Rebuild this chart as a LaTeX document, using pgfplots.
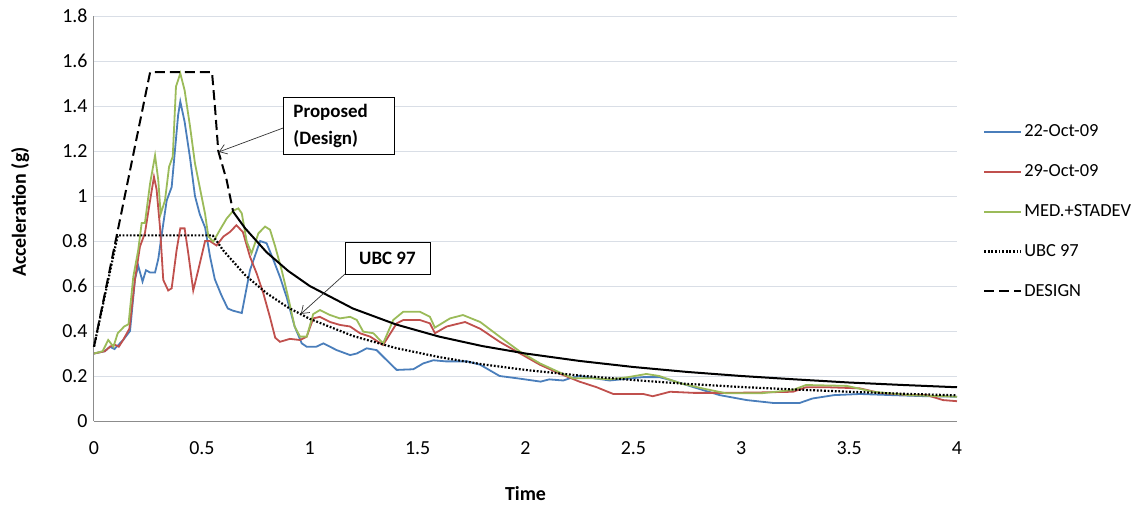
\documentclass[border=0pt]{standalone}
\usepackage{fontspec}
\setmainfont{Carlito}
\usepackage{pgfplots}
\usepackage{pgfplotstable}
\usetikzlibrary{arrows.meta}
\pgfplotsset{compat=1.18}
\definecolor{cblue}{RGB}{74,126,187}
\definecolor{cred}{RGB}{192,80,77}
\definecolor{cgreen}{RGB}{155,187,89}
\definecolor{gridc}{RGB}{217,222,230}
\definecolor{axc}{RGB}{140,140,140}

\pgfplotstableread{
t a
0 0.30
0.05 0.31
0.074 0.33
0.095 0.32
0.115 0.34
0.135 0.36
0.167 0.40
0.19 0.63
0.205 0.69
0.225 0.62
0.241 0.67
0.26 0.66
0.283 0.66
0.298 0.72
0.314 0.83
0.337 0.98
0.36 1.04
0.375 1.20
0.39 1.36
0.40 1.42
0.42 1.33
0.445 1.17
0.468 1.00
0.49 0.92
0.515 0.86
0.538 0.73
0.56 0.63
0.59 0.56
0.62 0.50
0.645 0.49
0.685 0.48
0.723 0.67
0.77 0.80
0.80 0.79
0.83 0.72
0.862 0.64
0.893 0.55
0.93 0.42
0.963 0.345
0.986 0.33
1.03 0.33
1.063 0.345
1.125 0.315
1.187 0.293
1.218 0.30
1.264 0.323
1.31 0.315
1.357 0.27
1.403 0.227
1.48 0.23
1.526 0.256
1.573 0.27
1.63 0.265
1.73 0.265
1.79 0.25
1.88 0.20
1.96 0.19
2.07 0.175
2.11 0.185
2.175 0.18
2.206 0.19
2.25 0.20
2.39 0.18
2.545 0.195
2.62 0.195
2.68 0.18
2.78 0.15
2.90 0.115
3.025 0.093
3.15 0.08
3.27 0.08
3.33 0.10
3.43 0.115
3.55 0.12
3.70 0.115
3.86 0.11
4.0 0.108
}\blue

\pgfplotstableread{
t a
0 0.30
0.05 0.31
0.074 0.33
0.095 0.34
0.115 0.33
0.135 0.36
0.164 0.41
0.19 0.63
0.213 0.775
0.236 0.835
0.26 0.98
0.278 1.085
0.29 1.03
0.306 0.86
0.321 0.627
0.344 0.58
0.36 0.59
0.383 0.76
0.40 0.856
0.42 0.856
0.437 0.745
0.46 0.58
0.483 0.67
0.515 0.80
0.537 0.80
0.568 0.78
0.60 0.82
0.63 0.84
0.66 0.87
0.69 0.84
0.723 0.73
0.754 0.656
0.785 0.567
0.816 0.46
0.84 0.37
0.862 0.352
0.908 0.365
0.955 0.36
0.986 0.375
1.016 0.456
1.047 0.463
1.094 0.44
1.14 0.427
1.187 0.42
1.233 0.39
1.28 0.375
1.34 0.338
1.403 0.434
1.434 0.449
1.51 0.449
1.557 0.434
1.58 0.39
1.635 0.42
1.72 0.44
1.79 0.41
1.88 0.352
1.975 0.30
2.067 0.25
2.16 0.21
2.25 0.175
2.33 0.15
2.407 0.12
2.546 0.12
2.59 0.11
2.67 0.13
2.78 0.125
2.93 0.125
3.09 0.127
3.24 0.13
3.30 0.15
3.40 0.15
3.55 0.145
3.64 0.125
3.78 0.115
3.86 0.115
3.935 0.093
4.0 0.088
}\red

\pgfplotstableread{
t a
0 0.30
0.04 0.31
0.066 0.36
0.09 0.33
0.11 0.39
0.14 0.42
0.16 0.43
0.182 0.64
0.205 0.76
0.221 0.88
0.236 0.88
0.26 1.056
0.283 1.18
0.298 1.07
0.309 0.92
0.329 0.98
0.348 1.13
0.365 1.175
0.38 1.486
0.40 1.545
0.42 1.47
0.445 1.31
0.468 1.145
0.49 1.04
0.515 0.92
0.53 0.82
0.553 0.797
0.584 0.85
0.615 0.90
0.646 0.935
0.669 0.945
0.685 0.923
0.708 0.797
0.73 0.745
0.762 0.834
0.793 0.864
0.816 0.85
0.84 0.775
0.87 0.67
0.90 0.55
0.93 0.42
0.955 0.375
0.986 0.375
1.016 0.475
1.047 0.493
1.094 0.471
1.14 0.456
1.187 0.463
1.218 0.449
1.248 0.397
1.295 0.39
1.34 0.345
1.387 0.449
1.434 0.486
1.51 0.486
1.557 0.463
1.58 0.415
1.65 0.456
1.71 0.471
1.79 0.44
1.88 0.375
1.975 0.308
2.067 0.256
2.16 0.215
2.22 0.19
2.31 0.19
2.39 0.185
2.47 0.194
2.56 0.209
2.62 0.20
2.72 0.167
2.82 0.145
2.93 0.123
3.09 0.123
3.24 0.138
3.30 0.16
3.49 0.156
3.61 0.13
3.78 0.115
4.0 0.108
}\green

\pgfplotstableread{
t a
0 0.33
0.11 0.825
0.55 0.825
0.6 0.757
0.7 0.649
0.8 0.568
0.9 0.504
1.0 0.454
1.2 0.378
1.4 0.324
1.6 0.284
1.8 0.252
2.0 0.227
2.25 0.202
2.5 0.182
2.75 0.165
3.0 0.151
3.25 0.140
3.5 0.130
3.75 0.121
4.0 0.114
}\ubc

\pgfplotstableread{
t a
0 0.33
0.26 1.55
0.547 1.55
0.562 1.38
0.576 1.20
0.615 1.07
0.645 0.93
}\design

\pgfplotstableread{
t a
0.645 0.930
0.7 0.857
0.8 0.750
0.9 0.667
1.0 0.600
1.2 0.500
1.4 0.429
1.6 0.375
1.8 0.333
2.0 0.300
2.25 0.267
2.5 0.240
2.75 0.218
3.0 0.200
3.25 0.185
3.5 0.171
3.75 0.160
4.0 0.150
}\designb

\begin{document}
\begin{tikzpicture}
\begin{axis}[
  at={(0,0)}, anchor=south west,
  width=863bp, height=405bp, scale only axis,
  xmin=0, xmax=4, ymin=0, ymax=1.8,
  xtick={0,0.5,1,1.5,2,2.5,3,3.5,4},
  ytick={0,0.2,0.4,0.6,0.8,1,1.2,1.4,1.6,1.8},
  axis x line*=bottom, axis y line*=left,
  axis line style={axc, line width=1bp, -},
  major tick length=0pt,
  ymajorgrids, grid style={gridc, line width=0.8bp},
  /pgf/number format/assume math mode=true,
  tick label style={font=\fontsize{20}{22}\selectfont},
  yticklabel style={xshift=-3bp},
  xticklabel style={yshift=-17bp},
  xlabel={\bfseries Time},
  ylabel={\bfseries Acceleration (g)},
  label style={font=\fontsize{20}{22}\selectfont},
  xlabel style={at={(axis description cs:0.5,-0.178)}, anchor=center},
  ylabel style={at={(axis description cs:-0.0857,0.516)}, anchor=center},
  legend style={at={(1.03,0.517)}, anchor=west, draw=none, fill=none,
    font=\fontsize{18.5}{21}\selectfont, row sep=22.5bp, inner sep=0pt},
  legend cell align=left,
  legend image code/.code={\draw[#1] (0bp,0bp) -- (37bp,0bp);},
  clip=false,
]
\addplot[cblue, line width=1.8bp] table[x=t,y=a] {\blue};
\addlegendentry{22-Oct-09}
\addplot[cred, line width=1.8bp] table[x=t,y=a] {\red};
\addlegendentry{29-Oct-09}
\addplot[cgreen, line width=1.8bp] table[x=t,y=a] {\green};
\addlegendentry{MED.+STADEV}
\addplot[black, line width=2.2bp, dash pattern=on 1.8bp off 1.8bp] table[x=t,y=a] {\ubc};
\addlegendentry{UBC 97}
\addplot[black, line width=2bp, dash pattern=on 10bp off 5bp] table[x=t,y=a] {\design};
\addlegendentry{DESIGN}
\addplot[black, line width=2bp, forget plot] table[x=t,y=a] {\designb};

\draw[black!80, line width=0.7bp, -{Straight Barb[length=7bp,width=10bp]}] (axis cs:0.876,1.302) -- (axis cs:0.579,1.196);
\node[draw=black, fill=white, line width=0.8bp, align=left, anchor=center,
  minimum width=111bp, minimum height=57bp, text width=90bp,
  font=\bfseries\fontsize{19}{27}\selectfont] at (axis cs:1.133,1.313) {Proposed\\(Design)};
\draw[black!80, line width=0.7bp, -{Straight Barb[length=7bp,width=10bp]}] (axis cs:1.163,0.653) -- (axis cs:0.959,0.476);
\node[draw=black, fill=white, line width=0.8bp, anchor=center,
  minimum width=85bp, minimum height=32bp,
  font=\bfseries\fontsize{19}{22}\selectfont] at (axis cs:1.36,0.724) {UBC 97};
\end{axis}
\pgfresetboundingbox
\path[use as bounding box] (-94bp,-84bp) rectangle (1047bp,421bp);
\end{tikzpicture}
\end{document}
